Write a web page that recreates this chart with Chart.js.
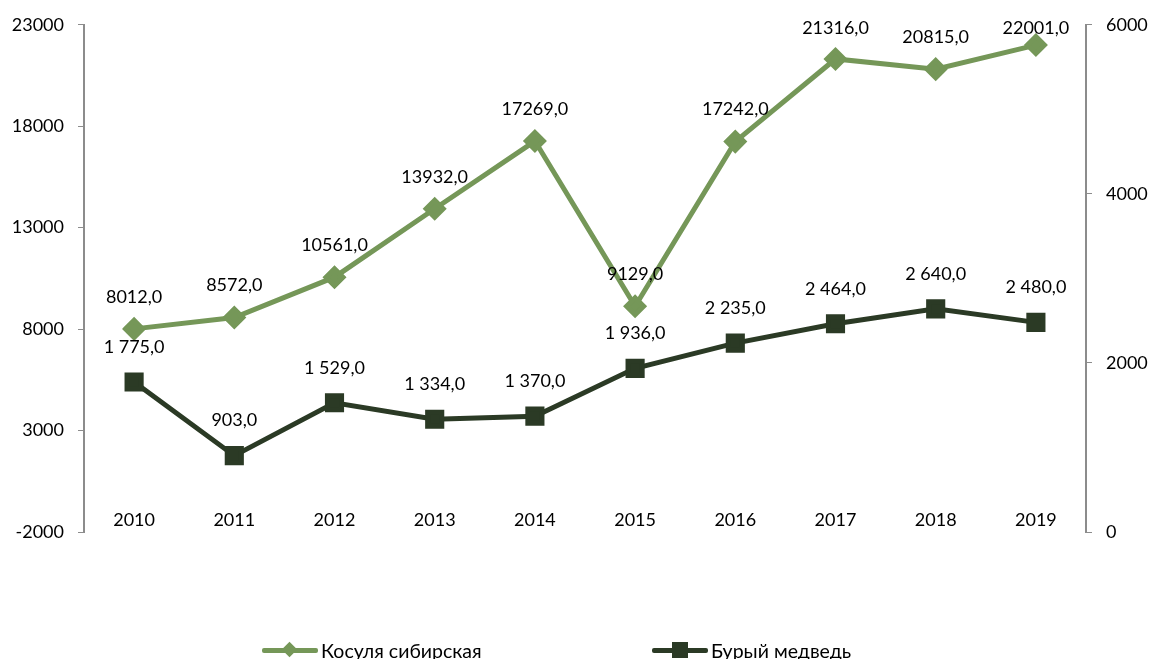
<!DOCTYPE html>
<html>
<head>
<meta charset="utf-8">
<script src="https://cdn.jsdelivr.net/npm/chart.js@4"></script>
<style>
  html, body { margin: 0; padding: 0; background: #fff; }
  #wrap { position: relative; width: 1151px; height: 659px; overflow: hidden; }
  canvas { position: absolute; left: 0; top: 0; }
  .leg { position: absolute; top: 638px; height: 24px; display: flex; align-items: center;
         font-family: Lato, "Noto Sans", sans-serif; font-size: 19.5px; color: #000; }
  .sw { position: relative; width: 56px; height: 24px; margin-right: 3px; }
  .sw .ln { position: absolute; left: 0; right: 0; top: 10px; height: 5px; border-radius: 2px; }
  .sw .mk { position: absolute; }
</style>
</head>
<body>
<div id="wrap">
  <canvas id="chart" width="1151" height="659"></canvas>
  <div class="leg" style="left:262px">
    <div class="sw"><div class="ln" style="background:#759758"></div>
      <div class="mk" style="left:22px;top:6px;width:11px;height:11px;background:#759758;transform:rotate(45deg)"></div></div>
    <span>Косуля сибирская</span>
  </div>
  <div class="leg" style="left:652px">
    <div class="sw"><div class="ln" style="background:#2b3a25"></div>
      <div class="mk" style="left:20px;top:4px;width:16px;height:16px;background:#2b3a25"></div></div>
    <span>Бурый медведь</span>
  </div>
</div>
<script>
// Categories and series values
const years = ['2010', '2011', '2012', '2013', '2014', '2015', '2016', '2017', '2018', '2019'];
const roeDeer = [8012, 8572, 10561, 13932, 17269, 9129, 17242, 21316, 20815, 22001];
const brownBear = [1775, 903, 1529, 1334, 1370, 1936, 2235, 2464, 2640, 2480];
const seriesNames = ['Косуля сибирская', 'Бурый медведь'];

const GREEN = '#759758';
const DARK = '#2b3a25';
const AXIS = '#8c8c8c';
const FONT = 'Lato, "Noto Sans", sans-serif';

// Format like "1 775,0" with space thousands separator
function fmt(v, sep) {
    const s = String(Math.round(v));
    const grouped = sep ? s.replace(/\B(?=(\d{3})+(?!\d))/g, ' ') : s;
    return grouped + ',0';
}

// Draw value labels above points
const valueLabels = {
    id: 'valueLabels',
    afterDatasetsDraw(chart) {
        const ctx = chart.ctx;
        ctx.save();
        ctx.font = '18px ' + FONT;
        ctx.fillStyle = '#000';
        ctx.textAlign = 'center';
        ctx.textBaseline = 'middle';
        chart.data.datasets.forEach((ds, i) => {
            const meta = chart.getDatasetMeta(i);
            meta.data.forEach((pt, j) => {
                const off = i === 0 ? 32 : 35;
                // keep labels inside the plot like the original
                const y = Math.max(pt.y - off, 28);
                ctx.fillText(fmt(ds.data[j], i === 1), pt.x, y);
            });
        });
        ctx.restore();
    }
};

const ctx = document.getElementById('chart');
new Chart(ctx, {
    type: 'line',
    data: {
        labels: years,
        datasets: [
            {
                label: seriesNames[0],
                data: roeDeer,
                yAxisID: 'y',
                borderColor: GREEN,
                backgroundColor: GREEN,
                borderWidth: 5,
                pointStyle: 'rectRot',
                pointRadius: 8.5,
                pointHoverRadius: 8.5,
                tension: 0
            },
            {
                label: seriesNames[1],
                data: brownBear,
                yAxisID: 'y2',
                borderColor: DARK,
                backgroundColor: DARK,
                borderWidth: 5,
                pointStyle: 'rect',
                pointRadius: 10,
                pointHoverRadius: 10,
                tension: 0
            }
        ]
    },
    options: {
        responsive: false,
        animation: false,
        layout: { padding: { top: 23, bottom: 127, left: 0, right: 0 } },
        plugins: {
            legend: { display: false },
            tooltip: { enabled: false }
        },
        scales: {
            x: {
                position: { y: 0 },
                offset: true,
                grid: { display: false },
                border: { display: false },
                ticks: { color: '#000', font: { family: FONT, size: 18 }, padding: 10 }
            },
            y: {
                position: 'left',
                min: -2000,
                max: 23000,
                afterFit(scale) { scale.width = 84; },
                grid: { drawOnChartArea: false, drawTicks: true, tickLength: 6, color: AXIS },
                border: { color: AXIS, width: 2 },
                ticks: {
                    stepSize: 5000,
                    color: '#000',
                    padding: 14,
                    font: { family: FONT, size: 18 },
                    callback: v => String(v)
                }
            },
            y2: {
                position: 'right',
                min: 0,
                max: 6000,
                afterFit(scale) { scale.width = 65; },
                grid: { drawOnChartArea: false, drawTicks: true, tickLength: 6, color: AXIS },
                border: { color: AXIS, width: 2 },
                ticks: {
                    stepSize: 2000,
                    color: '#000',
                    padding: 14,
                    font: { family: FONT, size: 18 },
                    callback: v => String(v)
                }
            }
        }
    },
    plugins: [valueLabels]
});
</script>
</body>
</html>
